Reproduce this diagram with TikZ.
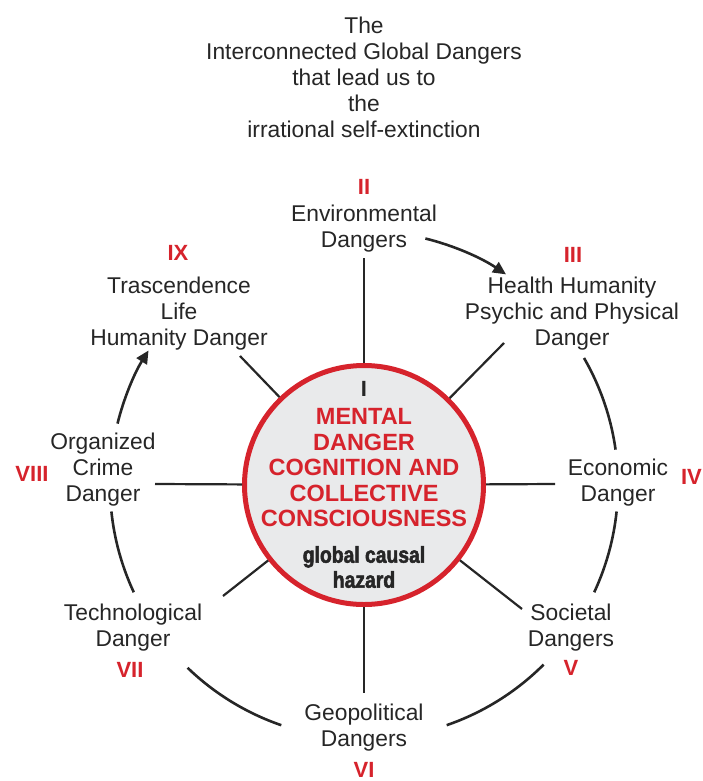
\documentclass[tikz,border=0pt]{standalone}
\usepackage{fontspec}
\setmainfont{Liberation Sans}
\newfontfamily\hazardfont[FakeStretch=0.84,BoldFeatures={FakeBold=2.2}]{Liberation Sans}
\usetikzlibrary{arrows.meta}
\definecolor{dg_red}{RGB}{214, 35, 44}
\definecolor{dg_grey}{RGB}{233, 234, 235}
\definecolor{dg_text}{RGB}{38, 38, 38}
\tikzstyle{mn}=[circle,fill=dg_grey,draw=dg_red,line width=5pt,
  minimum size=239pt,inner sep=0pt]
\tikzstyle{lbl}=[align=center,text=dg_text,inner sep=0pt,
  font=\fontsize{22.8}{26}\selectfont]
\tikzstyle{num}=[text=dg_red,inner sep=0pt,font=\bfseries\fontsize{22}{26}\selectfont]
\tikzstyle{rt}=[align=center,text=dg_red,inner sep=0pt,
  font=\bfseries\fontsize{23.5}{25.5}\selectfont]
\tikzstyle{ht}=[align=center,text=dg_text,inner sep=0pt,
  font=\hazardfont\bfseries\fontsize{23}{25}\selectfont]
\tikzstyle{spoke}=[draw=dg_text,line width=2.2pt]
\tikzstyle{ring}=[draw=dg_text,line width=2.6pt]
\tikzstyle{ringarrow}=[ring,-{Triangle[length=13pt,width=12pt]}]
\tikzstyle{none}=[]

\begin{document}
\begin{tikzpicture}[x=1pt,y=1pt]
            \useasboundingbox (0, 0) rectangle (703, -781);
            \node [style=lbl] (0) at (364, -77) {The\\Interconnected Global Dangers\\that lead us to\\the\\irrational self-extinction};
            \node [style=mn] (1) at (364, -485) {};
            \node [style=num, text=dg_text] (2) at (364, -389) {I};
            \node [style=rt] (3) at (364, -468) {MENTAL\\DANGER\\COGNITION AND\\COLLECTIVE\\CONSCIOUSNESS};
            \node [style=ht] (4) at (364, -567) {global causal\\hazard};
            \node [style=num] (5) at (364, -187) {II};
            \node [style=lbl] (6) at (364, -229) {Environmental\\Dangers};
            \node [style=num] (7) at (573, -255) {III};
            \node [style=lbl] (8) at (572, -314) {Health Humanity\\Psychic and Physical\\Danger};
            \node [style=num, anchor=east] (9) at (702, -477) {IV};
            \node [style=lbl] (10) at (618, -483) {Economic\\Danger};
            \node [style=lbl] (11) at (571, -628) {Societal\\Dangers};
            \node [style=num] (12) at (571, -668) {V};
            \node [style=lbl] (13) at (364, -728) {Geopolitical\\Dangers};
            \node [style=num] (14) at (364, -770) {VI};
            \node [style=lbl] (15) at (133, -628) {Technological\\Danger};
            \node [style=num] (16) at (130, -670) {VII};
            \node [style=lbl] (17) at (103, -470) {Organized\\Crime\\Danger};
            \node [style=num] (18) at (32, -474) {VIII};
            \node [style=lbl] (19) at (179, -314) {Trascendence\\Life\\Humanity Danger};
            \node [style=num] (20) at (178, -253) {IX};
            \node [style=none] (21) at (364, -258) {};
            \node [style=none] (22) at (504, -343) {};
            \node [style=none] (23) at (555, -484) {};
            \node [style=none] (24) at (522, -609) {};
            \node [style=none] (25) at (364, -693) {};
            \node [style=none] (26) at (223, -596) {};
            \node [style=none] (27) at (155, -484) {};
            \node [style=none] (28) at (240, -356) {};
            \node [style=none] (30) at (425.4, -238.5) {};
            \node [style=none] (31) at (584, -358) {};
            \node [style=none] (32) at (616.6, -511.5) {};
            \node [style=none] (33) at (543.6, -664.6) {};
            \node [style=none] (34) at (281.3, -725.2) {};
            \node [style=none] (35) at (133.8, -592.3) {};
            \node [style=none] (36) at (117.5, -423.6) {};
            \draw [style=spoke] (1) to (21.center);
            \draw [style=spoke] (1) to (22.center);
            \draw [style=spoke] (1) to (23.center);
            \draw [style=spoke] (1) to (24.center);
            \draw [style=spoke] (1) to (25.center);
            \draw [style=spoke] (1) to (26.center);
            \draw [style=spoke] (1) to (27.center);
            \draw [style=spoke] (1) to (28.center);
            \draw [style=ringarrow] (30.center) arc (76:56:254);
            \draw [style=ring] (31.center) arc (30:8:254);
            \draw [style=ring] (32.center) arc (-6:-25:254);
            \draw [style=ring] (33.center) arc (-45:-71:254);
            \draw [style=ring] (34.center) arc (-109:-134:254);
            \draw [style=ring] (35.center) arc (-155:-174:254);
            \draw [style=ringarrow] (36.center) arc (166:148:254);
    \end{tikzpicture}
\end{document}
